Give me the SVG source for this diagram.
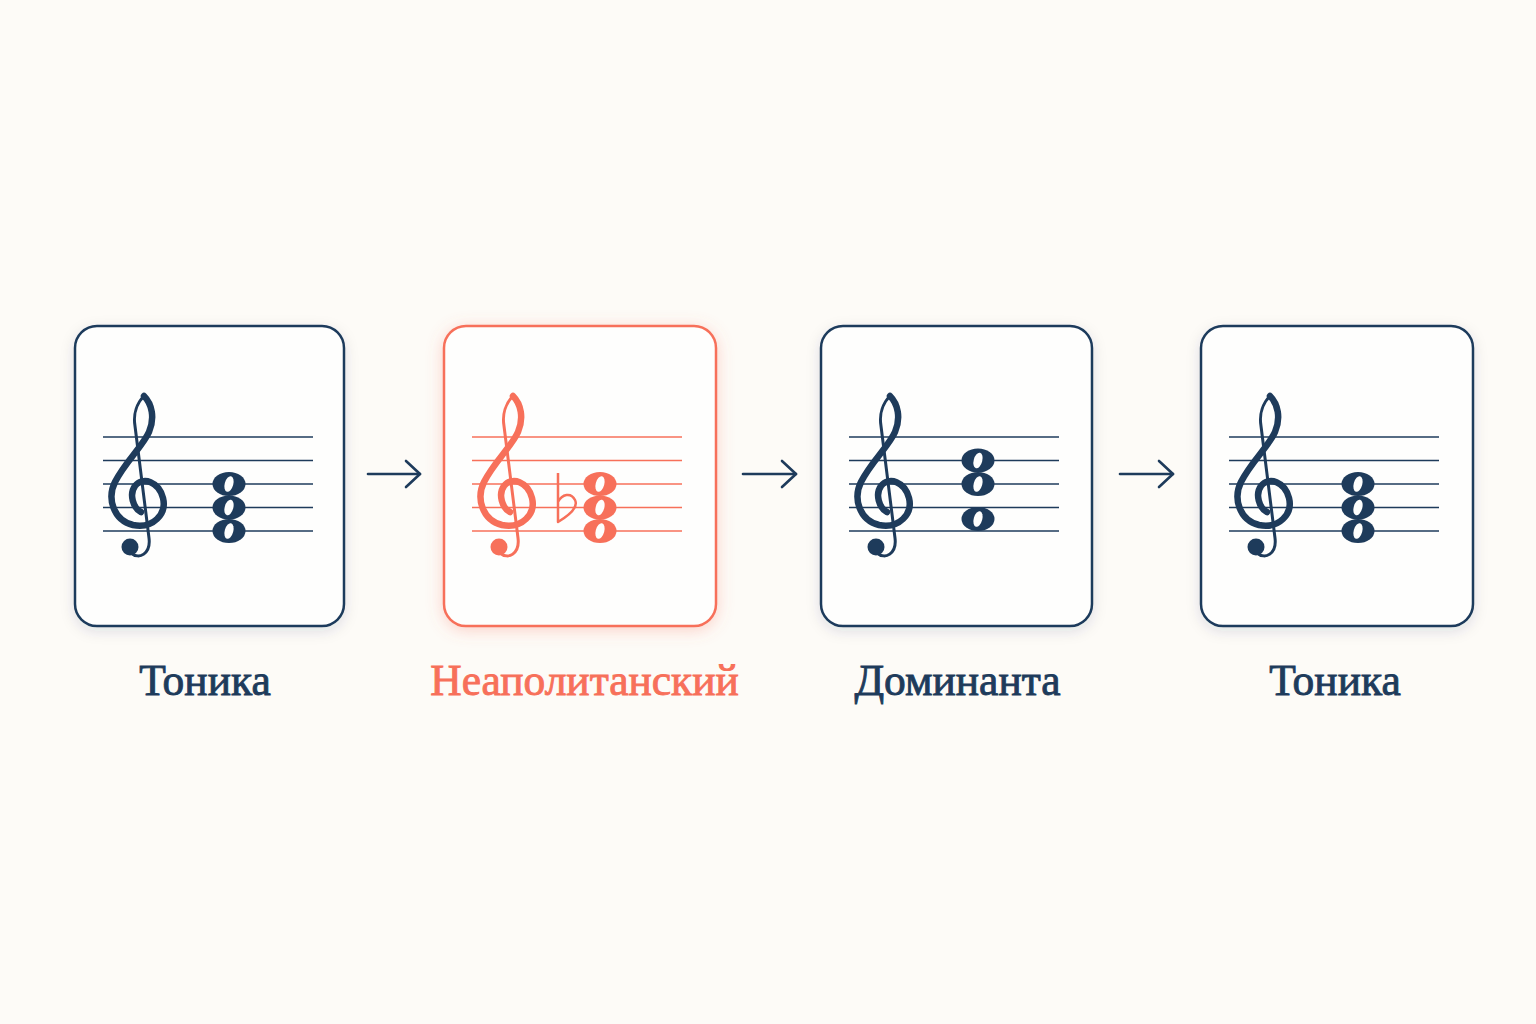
<svg xmlns="http://www.w3.org/2000/svg" xmlns:xlink="http://www.w3.org/1999/xlink" width="1536" height="1024" viewBox="0 0 1536 1024">
<style>
.box{fill:#fefefd;stroke-width:2.5}
.navy{color:#1e3b5b}
.coral{color:#f7705a}
.staff line{stroke:currentColor;stroke-width:1.5}
.lbl{font-family:"Liberation Serif","DejaVu Serif",serif;font-size:43.5px;text-anchor:middle;stroke-width:0.9}
.conn line,.conn path{stroke:#1e3b5b;stroke-width:2.6;fill:none;stroke-linecap:round;stroke-linejoin:round}
</style>
<defs>
<filter id="sh" x="-20%" y="-20%" width="140%" height="140%">
<feDropShadow dx="0" dy="4" stdDeviation="7" flood-color="#1e3b5b" flood-opacity="0.12"/>
</filter>
<filter id="shc" x="-20%" y="-20%" width="140%" height="140%">
<feDropShadow dx="0" dy="3" stdDeviation="8" flood-color="#f7705a" flood-opacity="0.3"/>
</filter>
<g id="clef">
<path d="M69,70 C62,77 58,88 60,100 L74,212 C76,228 64,234 56,227" fill="none" stroke="currentColor" stroke-width="3" stroke-linecap="round"/>
<path d="M69,70 C77,78 80,92 74,106 C68,120 50,136 40,156 C32,172 38,194 58,199 C78,203 92,188 88,172 C84,156 68,150 60,160 C54,168 58,182 66,186" fill="none" stroke="currentColor" stroke-width="6.5" stroke-linecap="round" stroke-linejoin="round"/>
<circle cx="55" cy="221" r="8.5" fill="currentColor"/>
</g>
<g id="note">
<ellipse cx="0" cy="0" rx="16.5" ry="12" fill="currentColor"/>
<ellipse cx="0" cy="0" rx="4.3" ry="8" transform="rotate(15)" fill="#fefefd"/>
</g>
<g id="staff" class="staff">
<line x1="28" y1="111" x2="238" y2="111"/>
<line x1="28" y1="134.5" x2="238" y2="134.5"/>
<line x1="28" y1="158" x2="238" y2="158"/>
<line x1="28" y1="181.5" x2="238" y2="181.5"/>
<line x1="28" y1="205" x2="238" y2="205"/>
</g>
</defs>
<rect width="1536" height="1024" fill="#fdfbf7"/>

<g id="node-tonic1" class="navy" transform="translate(75,326)">
<rect class="box" x="0" y="0" width="269" height="300" rx="22" stroke="currentColor" filter="url(#sh)"/>
<use xlink:href="#staff"/>
<use xlink:href="#clef"/>
<use xlink:href="#note" x="154" y="158"/>
<use xlink:href="#note" x="154" y="181.5"/>
<use xlink:href="#note" x="154" y="205"/>
<text class="lbl" x="130" y="369" fill="currentColor" stroke="currentColor">Тоника</text>
</g>

<g id="node-neapolitan" class="coral" transform="translate(444,326)">
<rect class="box" x="0" y="0" width="272" height="300" rx="22" stroke="currentColor" filter="url(#shc)"/>
<use xlink:href="#staff"/>
<use xlink:href="#clef"/>
<path d="M114,147 L114,196 C124,190 135,182 131,174 C127,166 118,168 114,176" fill="none" stroke="currentColor" stroke-width="2.5" stroke-linejoin="round"/>
<use xlink:href="#note" x="156" y="158"/>
<use xlink:href="#note" x="156" y="181.5"/>
<use xlink:href="#note" x="156" y="205"/>
<text class="lbl" x="140.5" y="369" fill="currentColor" stroke="currentColor">Неаполитанский</text>
</g>

<g id="node-dominant" class="navy" transform="translate(821,326)">
<rect class="box" x="0" y="0" width="271" height="300" rx="22" stroke="currentColor" filter="url(#sh)"/>
<use xlink:href="#staff"/>
<use xlink:href="#clef"/>
<use xlink:href="#note" x="157" y="134.5"/>
<use xlink:href="#note" x="157" y="158"/>
<use xlink:href="#note" x="157" y="193"/>
<text class="lbl" x="136.5" y="369" fill="currentColor" stroke="currentColor">Доминанта</text>
</g>

<g id="node-tonic2" class="navy" transform="translate(1201,326)">
<rect class="box" x="0" y="0" width="272" height="300" rx="22" stroke="currentColor" filter="url(#sh)"/>
<use xlink:href="#staff"/>
<use xlink:href="#clef"/>
<use xlink:href="#note" x="157" y="158"/>
<use xlink:href="#note" x="157" y="181.5"/>
<use xlink:href="#note" x="157" y="205"/>
<text class="lbl" x="134" y="369" fill="currentColor" stroke="currentColor">Тоника</text>
</g>

<g id="connectors" class="conn">
<line x1="368" y1="474" x2="420" y2="474"/>
<path d="M406,461 L420,474 L406,487"/>
<line x1="743" y1="474" x2="796" y2="474"/>
<path d="M782,461 L796,474 L782,487"/>
<line x1="1120" y1="474" x2="1173" y2="474"/>
<path d="M1159,461 L1173,474 L1159,487"/>
</g>
</svg>
